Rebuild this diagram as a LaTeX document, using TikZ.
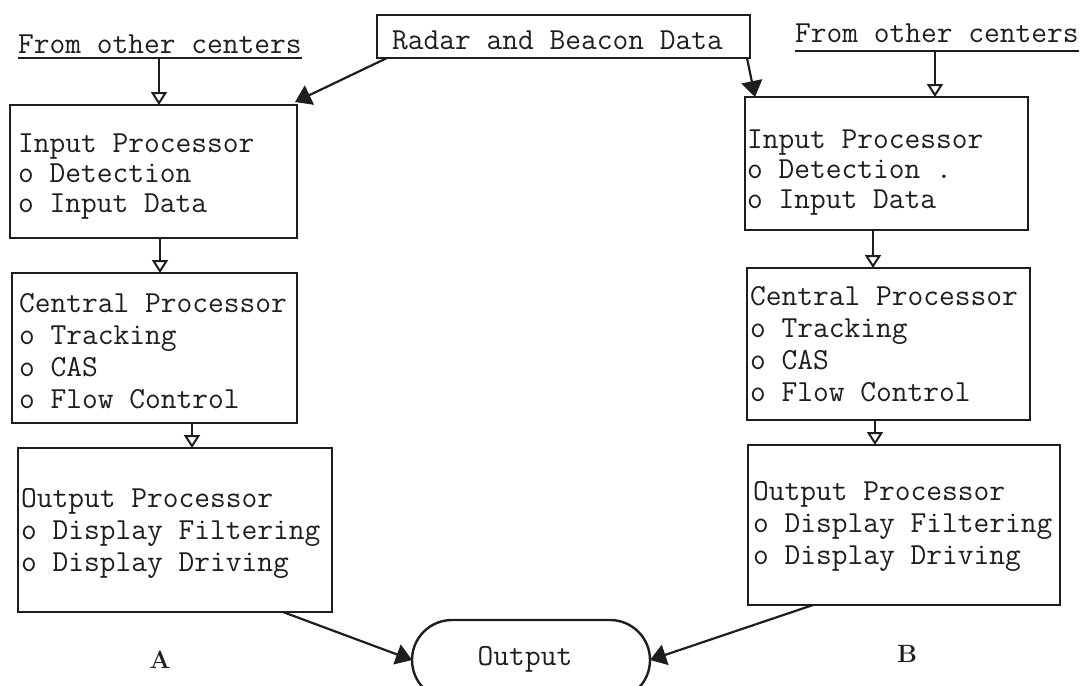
\documentclass[tikz,border=0pt]{standalone}
\usepackage{fontspec}
\usetikzlibrary{arrows.meta}
\definecolor{ink}{HTML}{1E1E1E}
% stack of left-aligned lines whose baseline is that of the first line
\newcommand\boxlines[1]{\begin{tabular}[t]{@{}l@{}}#1\end{tabular}}
% heavier typewriter face
\newcommand\typeface{\ttfamily\addfontfeature{FakeBold=0.7}}
\begin{document}
\begin{tikzpicture}[x=1pt,y=-1pt,
  every node/.style={inner sep=0pt, outer sep=0pt},
  txt/.style={font=\fontsize{30.6}{32}\selectfont\typeface, anchor=base west, text=ink},
  lab/.style={font=\fontsize{25}{27}\selectfont\bfseries, anchor=base, text=ink},
  blk/.style={draw=ink, line width=2.4pt, anchor=north west},
  openarrow/.style={draw=ink, line width=2pt, -{Triangle[open, width=16pt, length=13pt]}},
  fullarrow/.style={draw=ink, line width=2.2pt, -{Triangle[width=21pt, length=16pt]}},
  uline/.style={draw=ink, line width=2pt}]
\useasboundingbox (0,0) rectangle (1091,685);

% source of radar data
\node[blk, minimum width=373pt, minimum height=43pt] (radar) at (377,15) {};
\node[txt] (radart) at (392,50) {Radar and Beacon Data};

% feeds from other centers
\node[txt] (fromL) at (18,53) {From other centers};
\draw[uline] ([yshift=-5pt]fromL.base west) -- ([yshift=-5pt]fromL.base east);
\coordinate (tapL) at (159,58);
\node[txt] (fromR) at (795,42) {From other centers};
\draw[uline] ([yshift=-9pt]fromR.base west) -- ([yshift=-9pt]fromR.base east);
\coordinate (tapR) at (935,51);

% processor chain A
\node[blk, minimum width=287pt, minimum height=133pt] (A1) at (10,105) {};
\node[txt] (A1t) at (18,152) {\def\arraystretch{0.95}\boxlines{Input Processor\\o Detection\\o Input Data}};
\node[blk, minimum width=285pt, minimum height=150pt] (A2) at (12,273) {};
\node[txt] (A2t) at (19,312) {\boxlines{Central Processor\\o Tracking\\o CAS\\o Flow Control}};
\node[blk, minimum width=314pt, minimum height=164pt] (A3) at (18,448) {};
\node[txt] (A3t) at (21,507) {\boxlines{Output Processor\\o Display Filtering\\o Display Driving}};

% processor chain B
\node[blk, minimum width=283pt, minimum height=133pt] (B1) at (745,97) {};
\node[txt] (B1t) at (747,148) {\def\arraystretch{0.94}\boxlines{Input Processor\\o Detection .\\o Input Data}};
\node[blk, minimum width=283pt, minimum height=152pt] (B2) at (747,268) {};
\node[txt] (B2t) at (750,305) {\boxlines{Central Processor\\o Tracking\\o CAS\\o Flow Control}};
\node[blk, minimum width=312pt, minimum height=160pt] (B3) at (748,445) {};
\node[txt] (B3t) at (753,500) {\boxlines{Output Processor\\o Display Filtering\\o Display Driving}};

% common output terminal
\node[draw=ink, line width=2.4pt, rounded corners=40pt, minimum width=238pt, minimum height=80pt] (out) at (531,660) {};
\node[txt, anchor=base] (outt) at (525,665) {Output};

% chain labels
\node[lab] (labA) at (160,668) {A};
\node[lab] (labB) at (907,662) {B};

% connectors
\draw[openarrow] (tapL) -- (tapL |- A1.north);
\draw[openarrow] (tapR) -- (tapR |- B1.north);
\draw[fullarrow] ([xshift=10pt]radar.south west) -- ([xshift=-2pt,yshift=3pt]A1.north east);
\draw[fullarrow] ([xshift=-3pt]radar.south east) -- ([xshift=10pt]B1.north west);
\draw[openarrow] ([xshift=150pt]A1.south west) -- ([xshift=148pt]A2.north west);
\draw[openarrow] ([xshift=180pt]A2.south west) -- ([xshift=174pt]A3.north west);
\draw[openarrow] ([xshift=128pt]B1.south west) -- ([xshift=126pt]B2.north west);
\draw[openarrow] ([xshift=128pt]B2.south west) -- ([xshift=127pt]B3.north west);
\draw[fullarrow] ([xshift=265pt]A3.south west) -- (out.west);
\draw[fullarrow] ([xshift=65pt]B3.south west) -- (out.east);
\end{tikzpicture}
\end{document}
